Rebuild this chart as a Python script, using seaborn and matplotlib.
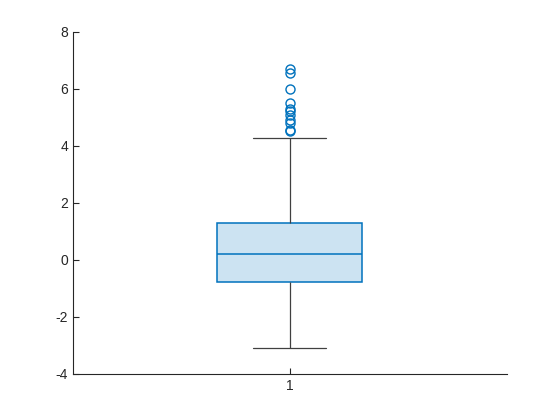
import matplotlib
matplotlib.use("Agg")
import matplotlib.pyplot as plt
import pandas as pd
import seaborn as sns

# summary values
LOWER_WHISKER = -3.09
Q1 = -0.78
MEDIAN = 0.2
Q3 = 1.28
UPPER_WHISKER = 4.28
OUTLIERS = [6.70, 6.53, 5.97, 5.51, 5.30, 5.20, 5.09, 4.88, 4.78, 4.54, 4.50]
GROUP = "1"

# sample whose quartiles land on the read values (n=49 -> Q1/med/Q3 at idx 12/24/36)
values = (
    [LOWER_WHISKER] + [Q1] * 12 + [MEDIAN] * 12 + [Q3] * 12 + [UPPER_WHISKER] + OUTLIERS
)
df = pd.DataFrame({"group": [GROUP] * len(values), "value": values})

BLUE = "#0072BD"
FILL = (0.80, 0.889, 0.948)
DARK = "#262626"

sns.set_style("white")
plt.rcParams["font.family"] = ["Liberation Sans", "DejaVu Sans"]

fig = plt.figure(figsize=(5.6, 4.2), dpi=100)
ax = fig.add_axes([0.13, 0.11, 0.775, 0.815])

sns.boxplot(
    data=df, x="group", y="value", ax=ax, width=0.335, whis=1.5,
    boxprops=dict(facecolor=FILL, edgecolor=BLUE, linewidth=1.1),
    medianprops=dict(color=BLUE, linewidth=1.1),
    whiskerprops=dict(color="#404040", linewidth=0.9),
    capprops=dict(color="#404040", linewidth=0.9),
    flierprops=dict(marker="o", markerfacecolor="none", markeredgecolor=BLUE,
                    markersize=6.5, markeredgewidth=1.0),
)

ax.set_xlim(-0.5, 0.5)
ax.set_ylim(-4, 8)
ax.set_yticks(range(-4, 9, 2))
ax.set_yticklabels([str(v) for v in range(-4, 9, 2)])
ax.set_xlabel("")
ax.set_ylabel("")
for side in ("top", "right"):
    ax.spines[side].set_visible(False)
for side in ("left", "bottom"):
    ax.spines[side].set_color(DARK)
    ax.spines[side].set_linewidth(0.8)
ax.tick_params(direction="in", length=4, width=0.8, colors=DARK,
               labelsize=10, left=True, bottom=True)

fig.savefig("out.png", dpi=100)
